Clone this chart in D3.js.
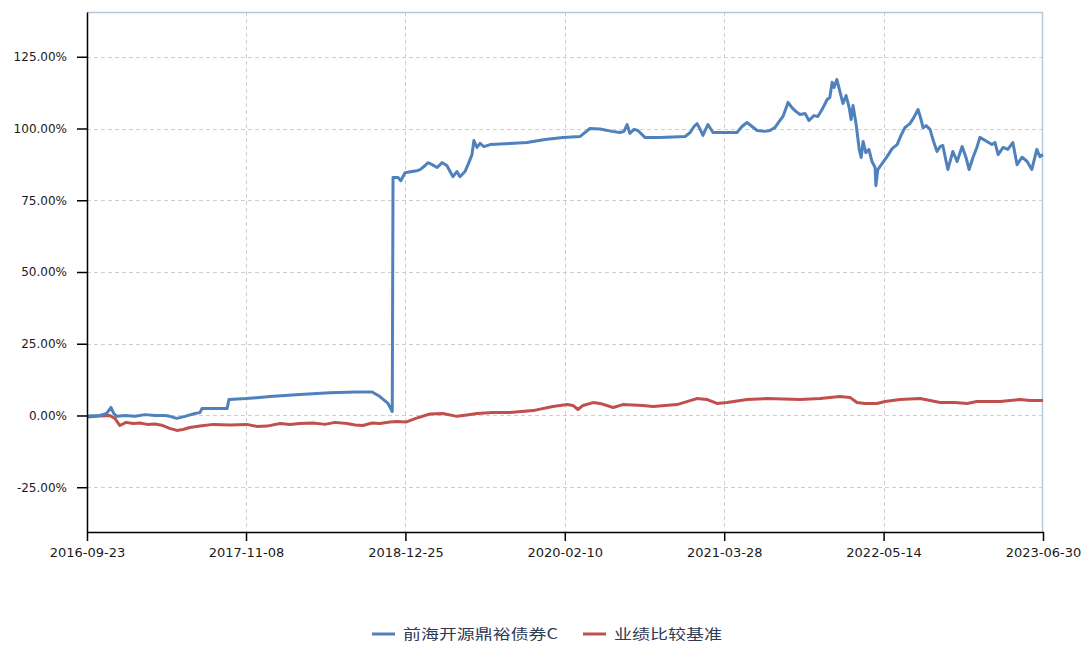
<!DOCTYPE html>
<html>
<head>
<meta charset="utf-8">
<script src="https://cdn.jsdelivr.net/npm/d3@7"></script>
<style>
  body { margin: 0; background: #fff; }
  svg { display: block; font-family: "Noto Sans CJK SC", "Noto Sans", sans-serif; }
  .grid line { stroke: #cfcfcf; stroke-dasharray: 4,3; }
  .axis text { font-family: "DejaVu Sans", sans-serif; fill: #1a1a1a; }
  .axis path, .axis line { stroke: #000; stroke-width: 1.5; }
</style>
</head>
<body>
<svg id="chart"></svg>
<script>
// series names
const fundName = "前海开源鼎裕债券C";
const benchName = "业绩比较基准";

// axis ticks
const xTickLabels = ["2016-09-23", "2017-11-08", "2018-12-25", "2020-02-10", "2021-03-28", "2022-05-14", "2023-06-30"];
const yTickValues = [-25, 0, 25, 50, 75, 100, 125];

// fund cumulative return (%)
const fundDates = [
  "2016-09-23","2016-10-26","2016-11-13","2016-11-24","2016-12-01","2016-12-09","2016-12-30","2017-01-25",
  "2017-02-20","2017-03-18","2017-04-13","2017-04-25","2017-05-13","2017-06-03","2017-06-29","2017-07-12",
  "2017-07-17","2017-08-20","2017-09-20","2017-09-25","2017-11-08","2018-01-09","2018-03-27","2018-06-13",
  "2018-08-17","2018-09-30","2018-10-20","2018-11-10","2018-11-21","2018-11-23","2018-12-06","2018-12-13",
  "2018-12-24","2019-01-11","2019-01-24","2019-02-01","2019-02-14","2019-02-21","2019-03-04","2019-03-17",
  "2019-03-30","2019-04-11","2019-04-27","2019-05-07","2019-05-15","2019-05-28","2019-06-07","2019-06-15",
  "2019-06-20","2019-06-28","2019-07-06","2019-07-16","2019-08-01","2019-09-21","2019-11-04","2019-12-21",
  "2020-02-05","2020-03-20","2020-04-15","2020-05-11","2020-06-11","2020-07-02","2020-07-12","2020-07-20",
  "2020-07-27","2020-08-07","2020-08-17","2020-09-04","2020-10-13","2020-12-17","2020-12-30","2021-01-09",
  "2021-01-17","2021-01-25","2021-02-01","2021-02-14","2021-02-27","2021-03-17","2021-04-12","2021-04-30",
  "2021-05-13","2021-05-26","2021-06-08","2021-06-21","2021-07-12","2021-07-24","2021-08-06","2021-08-19",
  "2021-08-27","2021-09-09","2021-09-19","2021-09-30","2021-10-10","2021-10-23","2021-11-02","2021-11-15",
  "2021-11-25","2021-12-06","2021-12-19","2021-12-26","2022-01-01","2022-01-06","2022-01-13","2022-01-21",
  "2022-01-29","2022-02-06","2022-02-14","2022-02-19","2022-02-24","2022-03-04","2022-03-12","2022-03-17",
  "2022-03-22","2022-03-29","2022-04-06","2022-04-14","2022-04-22","2022-04-24","2022-04-29","2022-05-10",
  "2022-05-23","2022-06-05","2022-06-18","2022-06-28","2022-07-08","2022-07-21","2022-07-31","2022-08-11",
  "2022-08-16","2022-08-24","2022-09-01","2022-09-11","2022-09-21","2022-09-29","2022-10-07","2022-10-14",
  "2022-10-27","2022-11-09","2022-11-20","2022-12-03","2022-12-13","2022-12-21","2022-12-31","2023-01-10",
  "2023-01-18","2023-02-05","2023-02-18","2023-02-26","2023-03-06","2023-03-19","2023-03-31","2023-04-13",
  "2023-04-24","2023-05-07","2023-05-20","2023-06-01","2023-06-14","2023-06-22","2023-06-30"
];
const fundValues = [
  -0.2, 0.0, 0.7, 2.8, 0.7, -0.3, 0.0, -0.3,
  0.3, 0.0, 0.0, -0.3, -1.0, -0.3, 0.7, 1.0,
  2.4, 2.4, 2.4, 5.6, 5.9, 6.6, 7.3, 7.9,
  8.2, 8.2, 6.6, 4.2, 1.4, 82.9, 82.9, 81.8,
  84.6, 85.0, 85.3, 85.7, 87.1, 88.1, 87.4, 86.4,
  88.1, 87.1, 83.2, 85.0, 83.2, 85.0, 88.1, 90.9,
  95.8, 93.4, 94.8, 93.7, 94.4, 94.8, 95.1, 96.2,
  96.9, 97.2, 100.0, 99.8, 99.0, 98.6, 99.0, 101.4,
  98.3, 99.7, 99.3, 96.9, 96.9, 97.2, 98.6, 100.7,
  101.7, 99.7, 97.6, 101.4, 98.6, 98.6, 98.6, 98.6,
  100.7, 102.1, 100.7, 99.3, 99.0, 99.3, 100.3, 102.8,
  104.2, 109.1, 107.3, 105.9, 104.9, 105.2, 102.8, 104.5,
  104.2, 106.6, 110.1, 110.8, 116.1, 114.3, 117.1, 112.9,
  108.7, 111.5, 107.3, 103.1, 108.0, 101.4, 92.7, 89.9,
  95.5, 91.6, 92.7, 88.5, 86.4, 80.1, 85.7, 87.8,
  90.2, 93.0, 94.4, 97.6, 100.3, 101.7, 103.8, 106.6,
  104.5, 100.3, 101.0, 99.7, 95.1, 92.0, 93.7, 94.1,
  85.7, 92.0, 88.5, 93.7, 89.9, 85.7, 89.9, 93.4,
  96.9, 95.5, 94.4, 95.1, 90.9, 93.4, 92.7, 95.1,
  87.4, 90.0, 88.5, 85.7, 92.7, 90.2, 90.9
];

// benchmark cumulative return (%)
const benchDates = [
  "2016-09-23","2016-10-26","2016-11-21","2016-12-04","2016-12-17","2017-01-02","2017-01-20","2017-02-07",
  "2017-02-25","2017-03-18","2017-04-07","2017-04-25","2017-05-13","2017-05-29","2017-06-16","2017-07-12",
  "2017-08-15","2017-09-28","2017-11-10","2017-12-06","2018-01-01","2018-02-04","2018-03-02","2018-03-27",
  "2018-04-30","2018-05-31","2018-06-26","2018-07-27","2018-08-17","2018-09-06","2018-09-30","2018-10-20",
  "2018-11-15","2018-12-03","2018-12-26","2019-01-21","2019-02-26","2019-04-01","2019-05-07","2019-06-02",
  "2019-06-28","2019-08-08","2019-09-21","2019-11-20","2020-01-10","2020-02-16","2020-03-02","2020-03-15",
  "2020-03-28","2020-04-23","2020-05-11","2020-06-14","2020-07-09","2020-08-30","2020-09-25","2020-11-26",
  "2020-12-30","2021-01-17","2021-02-11","2021-03-09","2021-04-04","2021-05-26","2021-07-17","2021-10-10",
  "2021-12-01","2022-01-21","2022-02-16","2022-03-06","2022-03-27","2022-04-27","2022-05-18","2022-06-25",
  "2022-08-16","2022-09-11","2022-10-07","2022-11-14","2022-12-16","2023-01-10","2023-03-11","2023-05-02",
  "2023-05-27","2023-06-30"
];
const benchValues = [
  -0.5, -0.2, 0.0, -1.0, -3.5, -2.4, -2.8, -2.6,
  -3.1, -3.0, -3.5, -4.5, -5.2, -4.9, -4.2, -3.7,
  -3.1, -3.3, -3.1, -3.8, -3.7, -2.8, -3.1, -2.8,
  -2.6, -3.1, -2.4, -2.8, -3.3, -3.5, -2.6, -2.8,
  -2.3, -2.1, -2.3, -1.0, 0.5, 0.7, -0.3, 0.2,
  0.7, 1.0, 1.0, 1.7, 3.1, 3.8, 3.5, 2.1,
  3.5, 4.5, 4.2, 2.8, 3.8, 3.5, 3.1, 3.8,
  5.2, 5.9, 5.6, 4.2, 4.5, 5.6, 5.9, 5.6,
  5.9, 6.6, 6.3, 4.5, 4.2, 4.2, 4.9, 5.6,
  5.9, 5.2, 4.5, 4.5, 4.2, 4.9, 4.9, 5.6,
  5.2, 5.2
];

const parseDate = d3.timeParse("%Y-%m-%d");
const fmtDate = d3.timeFormat("%Y-%m-%d");

const width = 1085;
const height = 646;
const margin = { top: 12, right: 42, bottom: 114, left: 87 };

const svg = d3.select("#chart")
    .attr("width", width)
    .attr("height", height);

const xTicks = xTickLabels.map(parseDate);

const xScale = d3.scaleTime()
    .domain([xTicks[0], xTicks[xTicks.length - 1]])
    .range([margin.left, width - margin.right]);

const yScale = d3.scaleLinear()
    .domain([-40.6, 140.6])
    .range([height - margin.bottom, margin.top]);

// grid
svg.append("g")
    .attr("class", "grid")
    .selectAll("line")
    .data(yTickValues)
    .enter().append("line")
    .attr("x1", margin.left)
    .attr("x2", width - margin.right)
    .attr("y1", d => Math.round(yScale(d)) + 0.5)
    .attr("y2", d => Math.round(yScale(d)) + 0.5);

svg.append("g")
    .attr("class", "grid")
    .selectAll("line")
    .data(xTicks.slice(1, -1))
    .enter().append("line")
    .attr("x1", d => Math.round(xScale(d)) + 0.5)
    .attr("x2", d => Math.round(xScale(d)) + 0.5)
    .attr("y1", margin.top)
    .attr("y2", height - margin.bottom);

// top and right border
svg.append("path")
    .attr("d", `M${margin.left},${margin.top + 0.5}H${width - margin.right - 0.5}V${height - margin.bottom}`)
    .attr("fill", "none")
    .attr("stroke", "#b8c8dc")
    .attr("stroke-width", 1.5);

// lines
const line = d3.line()
    .x(d => xScale(d.date))
    .y(d => yScale(d.value));

const fundData = fundDates.map((d, i) => ({ date: parseDate(d), value: fundValues[i] }));
const benchData = benchDates.map((d, i) => ({ date: parseDate(d), value: benchValues[i] }));

svg.append("path")
    .datum(benchData)
    .attr("fill", "none")
    .attr("stroke", "#c0504d")
    .attr("stroke-width", 3)
    .attr("stroke-linejoin", "round")
    .attr("d", line);

svg.append("path")
    .datum(fundData)
    .attr("fill", "none")
    .attr("stroke", "#4f81bd")
    .attr("stroke-width", 3)
    .attr("stroke-linejoin", "round")
    .attr("d", line);

// axes
svg.append("g")
    .attr("class", "axis")
    .attr("transform", `translate(0, ${height - margin.bottom})`)
    .call(d3.axisBottom(xScale)
        .tickValues(xTicks)
        .tickFormat(fmtDate)
        .tickSize(9)
        .tickPadding(7)
        .tickSizeOuter(0))
    .selectAll("text")
    .attr("font-size", 13);

svg.append("g")
    .attr("class", "axis")
    .attr("transform", `translate(${margin.left}, 0)`)
    .call(d3.axisLeft(yScale)
        .tickValues(yTickValues)
        .tickFormat(d => d.toFixed(2) + "%")
        .tickSize(10)
        .tickPadding(10)
        .tickSizeOuter(0))
    .selectAll("text")
    .attr("font-size", 12);

// legend
const legendItems = [
    { name: fundName, color: "#4f81bd", x: 372, w: 155 },
    { name: benchName, color: "#c0504d", x: 583, w: 108 }
];
const legend = svg.append("g").attr("transform", "translate(0, 634)");
legendItems.forEach(item => {
    legend.append("line")
        .attr("x1", item.x).attr("x2", item.x + 23)
        .attr("y1", 0).attr("y2", 0)
        .attr("stroke", item.color)
        .attr("stroke-width", 3);
    legend.append("text")
        .attr("x", item.x + 31)
        .attr("y", 5)
        .attr("font-size", 14)
        .attr("textLength", item.w)
        .attr("lengthAdjust", "spacingAndGlyphs")
        .attr("fill", "#2e3b55")
        .text(item.name);
});
</script>
</body>
</html>
